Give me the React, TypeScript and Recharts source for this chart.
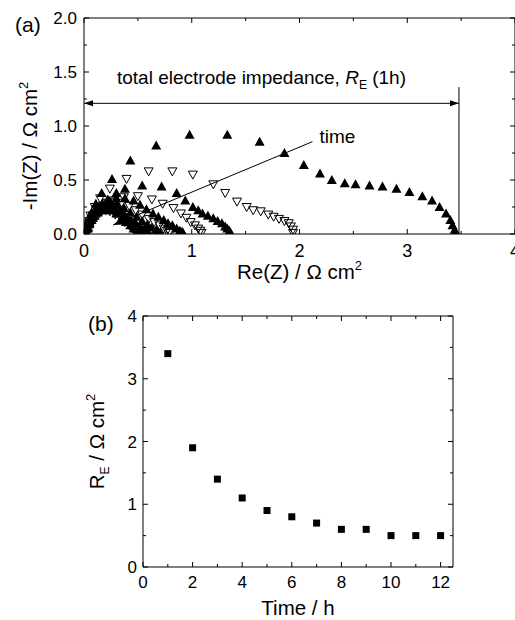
import React from 'react';
import { ScatterChart, Scatter, XAxis, YAxis, ReferenceLine, Label } from 'recharts';

// ---------- Panel (a): Nyquist plots, Re(Z) / -Im(Z) in Ω cm² ----------
const re1h = [0.01, 0.02, 0.04, 0.07, 0.11, 0.164, 0.26, 0.43, 0.67, 0.98, 1.33, 1.63, 1.86, 2.04, 2.19, 2.3, 2.42, 2.52, 2.65, 2.77, 2.9, 3.02, 3.14, 3.23, 3.3, 3.36, 3.4, 3.42, 3.44, 3.45];
const im1h = [0.0, 0.06, 0.13, 0.2, 0.28, 0.38, 0.51, 0.68, 0.82, 0.92, 0.92, 0.855, 0.75, 0.64, 0.56, 0.5, 0.47, 0.46, 0.45, 0.44, 0.42, 0.39, 0.35, 0.31, 0.25, 0.19, 0.13, 0.08, 0.04, 0.01];
const re2h = [0.01, 0.03, 0.06, 0.1, 0.15, 0.24, 0.395, 0.6, 0.82, 1.01, 1.2, 1.31, 1.42, 1.51, 1.57, 1.64, 1.71, 1.76, 1.81, 1.86, 1.9, 1.92, 1.94, 1.94];
const im2h = [0.0, 0.08, 0.17, 0.25, 0.33, 0.42, 0.51, 0.58, 0.58, 0.55, 0.46, 0.38, 0.3, 0.25, 0.22, 0.21, 0.18, 0.16, 0.14, 0.12, 0.1, 0.07, 0.04, 0.01];
const re3h = [0.02, 0.04, 0.08, 0.14, 0.22, 0.3, 0.38, 0.54, 0.72, 0.86, 0.94, 1.01, 1.06, 1.1, 1.15, 1.2, 1.24, 1.28, 1.31, 1.33, 1.35, 1.36];
const im3h = [0.0, 0.06, 0.15, 0.24, 0.32, 0.38, 0.42, 0.45, 0.44, 0.38, 0.31, 0.25, 0.22, 0.19, 0.17, 0.145, 0.12, 0.1, 0.07, 0.05, 0.03, 0.01];
const re4h = [0.02, 0.04, 0.08, 0.13, 0.2, 0.28, 0.37, 0.5, 0.63, 0.73, 0.83, 0.9, 0.95, 0.99, 1.03, 1.06, 1.08, 1.09];
const im4h = [0.0, 0.06, 0.13, 0.2, 0.26, 0.31, 0.34, 0.35, 0.32, 0.28, 0.24, 0.19, 0.15, 0.11, 0.08, 0.05, 0.03, 0.01];
const re5h = [0.02, 0.03, 0.05, 0.08, 0.12, 0.17, 0.23, 0.3, 0.38, 0.46, 0.52, 0.58, 0.64, 0.69, 0.74, 0.78, 0.82, 0.86, 0.89, 0.91, 0.92];
const im5h = [0.0, 0.06, 0.12, 0.18, 0.23, 0.28, 0.31, 0.33, 0.33, 0.31, 0.27, 0.23, 0.19, 0.16, 0.13, 0.1, 0.08, 0.05, 0.03, 0.02, 0.01];
const re6h = [0.02, 0.03, 0.05, 0.08, 0.12, 0.17, 0.22, 0.28, 0.35, 0.42, 0.48, 0.54, 0.6, 0.65, 0.7, 0.74, 0.77, 0.79, 0.8];
const im6h = [0.0, 0.06, 0.12, 0.17, 0.22, 0.26, 0.29, 0.3, 0.29, 0.26, 0.22, 0.18, 0.14, 0.11, 0.08, 0.05, 0.03, 0.02, 0.01];
const re7h = [0.02, 0.03, 0.05, 0.08, 0.11, 0.15, 0.2, 0.25, 0.31, 0.37, 0.43, 0.49, 0.54, 0.59, 0.63, 0.67, 0.69, 0.71];
const im7h = [0.0, 0.06, 0.11, 0.16, 0.21, 0.24, 0.27, 0.28, 0.27, 0.24, 0.2, 0.16, 0.12, 0.09, 0.06, 0.04, 0.02, 0.01];
const re8h = [0.02, 0.03, 0.05, 0.08, 0.11, 0.15, 0.19, 0.24, 0.29, 0.35, 0.4, 0.45, 0.5, 0.54, 0.58, 0.61, 0.63];
const im8h = [0.0, 0.05, 0.1, 0.15, 0.19, 0.23, 0.25, 0.26, 0.25, 0.22, 0.18, 0.14, 0.1, 0.07, 0.04, 0.02, 0.01];
const re9h = [0.02, 0.03, 0.05, 0.08, 0.11, 0.14, 0.18, 0.23, 0.28, 0.33, 0.38, 0.43, 0.48, 0.52, 0.55, 0.58, 0.6];
const im9h = [0.0, 0.05, 0.1, 0.15, 0.19, 0.22, 0.24, 0.25, 0.24, 0.21, 0.17, 0.13, 0.1, 0.07, 0.04, 0.02, 0.01];
const re10h = [0.02, 0.03, 0.05, 0.07, 0.1, 0.13, 0.17, 0.21, 0.26, 0.31, 0.36, 0.41, 0.45, 0.48, 0.51, 0.53];
const im10h = [0.0, 0.05, 0.1, 0.14, 0.18, 0.21, 0.23, 0.24, 0.23, 0.2, 0.16, 0.12, 0.08, 0.05, 0.02, 0.01];
const re11h = [0.02, 0.03, 0.05, 0.07, 0.1, 0.13, 0.17, 0.21, 0.25, 0.3, 0.35, 0.39, 0.43, 0.46, 0.49, 0.51];
const im11h = [0.0, 0.05, 0.09, 0.13, 0.17, 0.2, 0.22, 0.23, 0.22, 0.19, 0.15, 0.11, 0.08, 0.05, 0.02, 0.01];
const re12h = [0.02, 0.03, 0.05, 0.07, 0.1, 0.13, 0.16, 0.2, 0.24, 0.29, 0.34, 0.38, 0.42, 0.45, 0.48, 0.5];
const im12h = [0.0, 0.05, 0.09, 0.13, 0.16, 0.19, 0.21, 0.22, 0.21, 0.18, 0.15, 0.11, 0.08, 0.05, 0.02, 0.01];

const reTicksA = [0, 0.5, 1, 1.5, 2, 2.5, 3, 3.5, 4];
const reMajorA = [0, 1, 2, 3, 4];
const imTicksA = [0, 0.25, 0.5, 0.75, 1, 1.25, 1.5, 1.75, 2];
const imMajorA = [0, 0.5, 1, 1.5, 2];

// annotation anchors (data units)
const reTotal1h = 3.48;
const imTotalArrow = 1.21;
const imTotalLineTop = 1.36;
const timeArrowStart = { x: 2.12, y: 0.855 };
const timeArrowEnd = { x: 0.27, y: 0.083 };

// ---------- Panel (b): R_E vs time ----------
const timeH = [1, 2, 3, 4, 5, 6, 7, 8, 9, 10, 11, 12];
const rE = [3.4, 1.9, 1.4, 1.1, 0.9, 0.8, 0.7, 0.6, 0.6, 0.5, 0.5, 0.5];
const tTicksB = [0, 1, 2, 3, 4, 5, 6, 7, 8, 9, 10, 11, 12];
const tMajorB = [0, 2, 4, 6, 8, 10, 12];
const rTicksB = [0, 0.5, 1, 1.5, 2, 2.5, 3, 3.5, 4];
const rMajorB = [0, 1, 2, 3, 4];

const FONT = '"Liberation Sans", Arial, Helvetica, sans-serif';

const arcsA = [
  { re: re1h, im: im1h, filled: true },
  { re: re2h, im: im2h, filled: false },
  { re: re3h, im: im3h, filled: true },
  { re: re4h, im: im4h, filled: false },
  { re: re5h, im: im5h, filled: true },
  { re: re6h, im: im6h, filled: false },
  { re: re7h, im: im7h, filled: true },
  { re: re8h, im: im8h, filled: false },
  { re: re9h, im: im9h, filled: true },
  { re: re10h, im: im10h, filled: false },
  { re: re11h, im: im11h, filled: true },
  { re: re12h, im: im12h, filled: false },
].map((a) => ({ filled: a.filled, data: a.re.map((x, i) => ({ x, y: a.im[i] })) }));

const dataB = timeH.map((t, i) => ({ x: t, y: rE[i] }));

const UpTri = (p: any) => {
  const { cx, cy } = p;
  if (cx == null || cy == null) return null;
  return <polygon points={`${cx},${cy - 5} ${cx - 5},${cy + 4} ${cx + 5},${cy + 4}`} fill="#000" />;
};
const DownTri = (p: any) => {
  const { cx, cy } = p;
  if (cx == null || cy == null) return null;
  return (
    <polygon
      points={`${cx - 4.5},${cy - 3.5} ${cx + 4.5},${cy - 3.5} ${cx},${cy + 4.5}`}
      fill="none"
      stroke="#000"
      strokeWidth={1}
    />
  );
};
const Sq = (p: any) => {
  const { cx, cy } = p;
  if (cx == null || cy == null) return null;
  return <rect x={cx - 3.5} y={cy - 3.5} width={7} height={7} fill="#000" />;
};
const NoShape = () => null;

const isIn = (arr: number[], v: number) => arr.some((m) => Math.abs(m - v) < 1e-9);

const makeTick =
  (orient: 'bottom' | 'top' | 'left' | 'right', majors: number[], showLabel: boolean, fontSize: number, gap: number, fmt: (v: number) => string) =>
  (props: any) => {
    const { x, y, payload } = props;
    const v = payload.value;
    const major = isIn(majors, v);
    const len = major ? 5 : 3;
    let line: React.ReactNode = null;
    let label: React.ReactNode = null;
    if (orient === 'bottom') {
      line = <line x1={x} y1={y} x2={x} y2={y - len} stroke="#000" />;
      if (showLabel && major)
        label = (
          <text x={x} y={y + gap} textAnchor="middle" fontSize={fontSize} fontFamily={FONT} fill="#000">
            {fmt(v)}
          </text>
        );
    } else if (orient === 'top') {
      line = <line x1={x} y1={y} x2={x} y2={y + len} stroke="#000" />;
    } else if (orient === 'left') {
      line = <line x1={x} y1={y} x2={x + len} y2={y} stroke="#000" />;
      if (showLabel && major)
        label = (
          <text x={x - gap} y={y} dy="0.36em" textAnchor="end" fontSize={fontSize} fontFamily={FONT} fill="#000">
            {fmt(v)}
          </text>
        );
    } else {
      line = <line x1={x} y1={y} x2={x - len} y2={y} stroke="#000" />;
    }
    return (
      <g>
        {line}
        {label}
      </g>
    );
  };

const head = (x: number, y: number, fx: number, fy: number, len = 9, half = 3) => {
  const dx = x - fx;
  const dy = y - fy;
  const d = Math.hypot(dx, dy) || 1;
  const ux = dx / d;
  const uy = dy / d;
  const bx = x - ux * len;
  const by = y - uy * len;
  return `${x},${y} ${bx - uy * half},${by + ux * half} ${bx + uy * half},${by - ux * half}`;
};

const TotalArrow = (p: any) => {
  const { x1, y1, x2, y2 } = p;
  if (x1 == null) return null;
  return (
    <g>
      <line x1={x1} y1={y1} x2={x2} y2={y2} stroke="#000" strokeWidth={1} />
      <polygon points={head(x1, y1, x2, y2)} fill="#000" />
      <polygon points={head(x2, y2, x1, y1)} fill="#000" />
      <text x={x1 + 33} y={y1 - 19} fontSize={19} fontFamily={FONT} fill="#000">
        total electrode impedance,{' '}
        <tspan fontStyle="italic">R</tspan>
        <tspan fontSize={12} dy={5}>E</tspan>
        <tspan dy={-5}> (1h)</tspan>
      </text>
    </g>
  );
};

const PlainLine = (p: any) => {
  const { x1, y1, x2, y2 } = p;
  if (x1 == null) return null;
  return <line x1={x1} y1={y1} x2={x2} y2={y2} stroke="#000" strokeWidth={1} />;
};

const TimeArrow = (p: any) => {
  const { x1, y1, x2, y2 } = p;
  if (x1 == null) return null;
  return (
    <g>
      <line x1={x1} y1={y1} x2={x2} y2={y2} stroke="#000" strokeWidth={1} />
      <polygon points={head(x2, y2, x1, y1, 10, 3.5)} fill="#000" />
      <text x={x1 + 7} y={y1 + 1} fontSize={19} fontFamily={FONT} fill="#000">
        time
      </text>
    </g>
  );
};

const XTitleA = (p: any) => {
  const vb = p.viewBox || {};
  const cx = vb.x + vb.width / 2;
  return (
    <text x={cx} y={vb.y + 45} textAnchor="middle" fontSize={20.5} fontFamily={FONT} fill="#000">
      Re(Z) / Ω cm<tspan fontSize={13} dy={-9}>2</tspan>
    </text>
  );
};
const YTitleA = (p: any) => {
  const vb = p.viewBox || {};
  const cx = 37;
  const cy = vb.y + vb.height / 2 + 20;
  return (
    <text x={cx} y={cy} transform={`rotate(-90 ${cx} ${cy})`} textAnchor="middle" fontSize={20.5} fontFamily={FONT} fill="#000">
      -Im(Z) / Ω cm<tspan fontSize={13} dy={-9}>2</tspan>
    </text>
  );
};
const XTitleB = (p: any) => {
  const vb = p.viewBox || {};
  const cx = vb.x + vb.width / 2;
  return (
    <text x={cx} y={vb.y + 48} textAnchor="middle" fontSize={20.5} fontFamily={FONT} fill="#000">
      Time / h
    </text>
  );
};
const YTitleB = (p: any) => {
  const vb = p.viewBox || {};
  const cx = 104;
  const cy = vb.y + vb.height / 2;
  return (
    <text x={cx} y={cy} transform={`rotate(-90 ${cx} ${cy})`} textAnchor="middle" fontSize={20.5} fontFamily={FONT} fill="#000">
      R<tspan fontSize={12} dy={5}>E</tspan>
      <tspan dy={-5}> / Ω cm</tspan>
      <tspan fontSize={13} dy={-9}>2</tspan>
    </text>
  );
};

const fmt1 = (v: number) => v.toFixed(1);
const fmt0 = (v: number) => String(v);

export default function App() {
  return (
    <div style={{ position: 'absolute', left: 0, top: 0, width: 515, height: 620, background: '#fff', overflow: 'hidden' }}>
      <div style={{ position: 'absolute', left: 0, top: 0 }}>
        <ScatterChart width={515} height={300} margin={{ top: 17, right: -1, bottom: 36, left: 24 }}>
          <XAxis
            type="number"
            dataKey="x"
            domain={[0, 4]}
            ticks={reTicksA}
            interval={0}
            height={30}
            tickSize={0}
            tickMargin={0}
            tickLine={false}
            axisLine={{ stroke: '#000' }}
            tick={makeTick('bottom', reMajorA, true, 18, 23, fmt0)}
            allowDataOverflow
          >
            <Label content={XTitleA} />
          </XAxis>
          <XAxis
            xAxisId="t"
            orientation="top"
            type="number"
            dataKey="x"
            domain={[0, 4]}
            ticks={reTicksA}
            interval={0}
            height={1}
            tickSize={0}
            tickMargin={0}
            tickLine={false}
            axisLine={{ stroke: '#000' }}
            tick={makeTick('top', reMajorA, false, 16, 0, fmt0)}
            allowDataOverflow
          />
          <YAxis
            type="number"
            dataKey="y"
            domain={[0, 2]}
            ticks={imTicksA}
            interval={0}
            width={60}
            tickSize={0}
            tickMargin={0}
            tickLine={false}
            axisLine={{ stroke: '#000' }}
            tick={makeTick('left', imMajorA, true, 17, 7, fmt1)}
            allowDataOverflow
          >
            <Label content={YTitleA} />
          </YAxis>
          <YAxis
            yAxisId="r"
            orientation="right"
            type="number"
            dataKey="y"
            domain={[0, 2]}
            ticks={imTicksA}
            interval={0}
            width={1}
            tickSize={0}
            tickMargin={0}
            tickLine={false}
            axisLine={{ stroke: '#000' }}
            tick={makeTick('right', imMajorA, false, 16, 0, fmt1)}
            allowDataOverflow
          />
          <Scatter data={arcsA[0].data} xAxisId="t" yAxisId="r" shape={NoShape} isAnimationActive={false} />
          {arcsA.map((a, i) => (
            <Scatter key={i} data={a.data} shape={a.filled ? UpTri : DownTri} isAnimationActive={false} />
          ))}
          <ReferenceLine
            segment={[
              { x: 0, y: imTotalArrow },
              { x: reTotal1h, y: imTotalArrow },
            ]}
            shape={TotalArrow}
          />
          <ReferenceLine
            segment={[
              { x: reTotal1h, y: 0 },
              { x: reTotal1h, y: imTotalLineTop },
            ]}
            shape={PlainLine}
          />
          <ReferenceLine segment={[timeArrowStart, timeArrowEnd]} shape={TimeArrow} />
          <text x={15} y={32} fontSize={21} fontFamily={FONT} fill="#000">
            (a)
          </text>
        </ScatterChart>
      </div>
      <div style={{ position: 'absolute', left: 0, top: 300 }}>
        <ScatterChart width={515} height={320} margin={{ top: 15, right: 61, bottom: 23, left: 83 }}>
          <XAxis
            type="number"
            dataKey="x"
            domain={[0, 12.5]}
            ticks={tTicksB}
            interval={0}
            height={30}
            tickSize={0}
            tickMargin={0}
            tickLine={false}
            axisLine={{ stroke: '#000' }}
            tick={makeTick('bottom', tMajorB, true, 17, 21, fmt0)}
            allowDataOverflow
          >
            <Label content={XTitleB} />
          </XAxis>
          <XAxis
            xAxisId="t"
            orientation="top"
            type="number"
            dataKey="x"
            domain={[0, 12.5]}
            ticks={tTicksB}
            interval={0}
            height={1}
            tickSize={0}
            tickMargin={0}
            tickLine={false}
            axisLine={{ stroke: '#000' }}
            tick={makeTick('top', tMajorB, false, 16, 0, fmt0)}
            allowDataOverflow
          />
          <YAxis
            type="number"
            dataKey="y"
            domain={[0, 4]}
            ticks={rTicksB}
            interval={0}
            width={60}
            tickSize={0}
            tickMargin={0}
            tickLine={false}
            axisLine={{ stroke: '#000' }}
            tick={makeTick('left', rMajorB, true, 17, 6, fmt0)}
            allowDataOverflow
          >
            <Label content={YTitleB} />
          </YAxis>
          <YAxis
            yAxisId="r"
            orientation="right"
            type="number"
            dataKey="y"
            domain={[0, 4]}
            ticks={rTicksB}
            interval={0}
            width={1}
            tickSize={0}
            tickMargin={0}
            tickLine={false}
            axisLine={{ stroke: '#000' }}
            tick={makeTick('right', rMajorB, false, 16, 0, fmt0)}
            allowDataOverflow
          />
          <Scatter data={dataB} xAxisId="t" yAxisId="r" shape={NoShape} isAnimationActive={false} />
          <Scatter data={dataB} shape={Sq} isAnimationActive={false} />
          <text x={88} y={31} fontSize={21} fontFamily={FONT} fill="#000">
            (b)
          </text>
        </ScatterChart>
      </div>
    </div>
  );
}
